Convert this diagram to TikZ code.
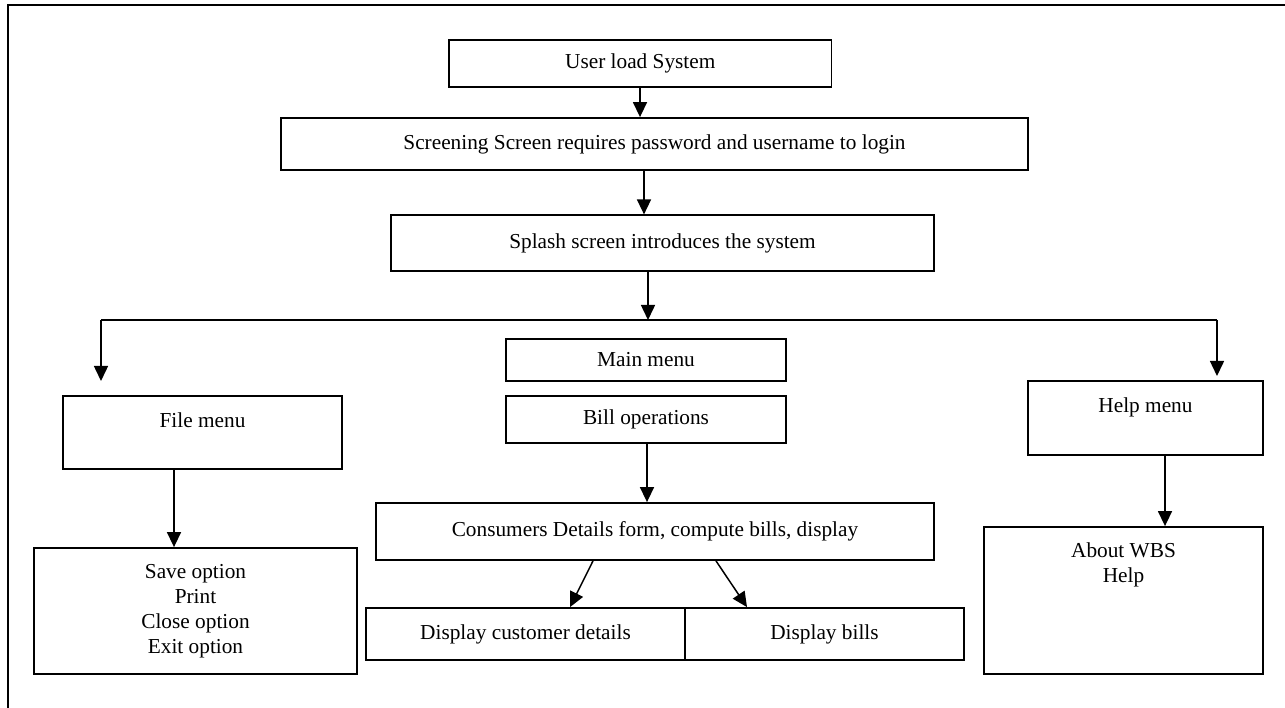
\documentclass[tikz,border=0pt]{standalone}
\usepackage{fontspec}
\setmainfont{Liberation Serif}
\usetikzlibrary{arrows.meta}
\begin{document}
\begin{tikzpicture}[x=1pt,y=-1pt,
  box/.style={draw, line width=1.8pt, rectangle, inner sep=0pt, align=center,
    font=\fontsize{21.3}{25}\selectfont},
  arr/.style={line width=1.5pt, -{Triangle[length=15pt,width=14pt]}},
  ln/.style={line width=1.5pt}]
\useasboundingbox (0,0) rectangle (1285,708);
% frame (only top and left edges fall inside the picture)
\draw[line width=2.3pt] (8,712) -- (8,5) -- (1290,5);

\node[box, minimum width=382.5pt, minimum height=47pt] (user) at (640.3,63.8) {User load System};
\node[box, minimum width=747pt, minimum height=52pt] (scr) at (654.5,144) {Screening Screen requires password and username to login};
\node[box, minimum width=543pt, minimum height=55.4pt] (spl) at (662.5,243) {Splash screen introduces the system};
\node[box, minimum width=280pt, minimum height=42pt] (main) at (646,360) {Main menu};
\node[box, minimum width=280pt, minimum height=47pt] (bill) at (646,419.5) {Bill operations};
\node[box, minimum width=558pt, minimum height=57pt] (cons) at (655,531.5) {Consumers Details form, compute bills, display};
\node[box, minimum width=319pt, minimum height=52pt] (d1) at (525.5,634) {Display customer details};
\node[box, minimum width=279pt, minimum height=52pt] (d2) at (824.5,634) {Display bills};
\node[box, minimum width=279pt, minimum height=73pt] (file) at (202.5,432.5) {File menu\\\mbox{}};
\node[box, minimum width=323pt, minimum height=126pt] (save) at (195.5,611) {Save option\\Print\\Close option\\Exit option};
\node[box, minimum width=235pt, minimum height=74pt] (help) at (1145.5,418) {Help menu\\\mbox{}};
\node[box, minimum width=279pt, minimum height=147pt] (about) at (1123.5,600.5) {About WBS\\Help\\\mbox{}\\\mbox{}\\\mbox{}};

\coordinate (j) at (648,320);
\coordinate (jl) at (101,320);
\coordinate (jr) at (1217,320);
\coordinate (fl) at (101,381);
\coordinate (hr) at (1217,376);

\draw[arr] ([xshift=-0.3pt]user.south) -- ([xshift=-0.3pt]user.south |- scr.north);
\draw[arr] ([xshift=-10.5pt]scr.south) -- ([xshift=-10.5pt]scr.south |- spl.north);
\draw[arr] ([xshift=-14.5pt]spl.south) -- (j);
\draw[ln] (jl) -- (jr);
\draw[arr] (jl) -- (fl);
\draw[arr] (jr) -- (hr);
\draw[arr] ([xshift=1pt]bill.south) -- ([xshift=1pt]bill.south |- cons.north);
\draw[arr] ([xshift=-62pt]cons.south) -- ([xshift=44.5pt]d1.north);
\draw[arr] ([xshift=61pt]cons.south) -- ([xshift=-77.5pt]d2.north);
\draw[arr] ([xshift=-28.5pt]file.south) -- ([xshift=-28.5pt]file.south |- save.north);
\draw[arr] ([xshift=19.5pt]help.south) -- ([xshift=19.5pt]help.south |- about.north);
\end{tikzpicture}
\end{document}
